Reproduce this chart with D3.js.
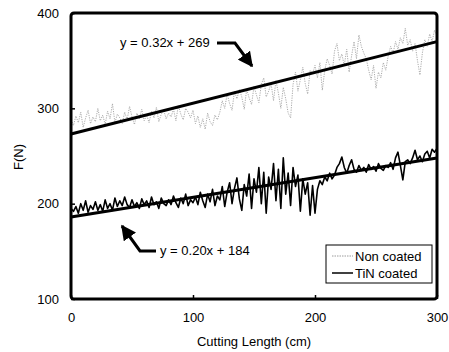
<!DOCTYPE html>
<html><head><meta charset="utf-8">
<script src="https://cdn.jsdelivr.net/npm/d3@7"></script>
<style>
html,body{margin:0;padding:0;background:#fff;}
svg{display:block;font-family:"Liberation Sans",Arial,sans-serif;}
</style></head>
<body>
<svg id="chart" width="449" height="352"></svg>
<script>
// ---- data ----
const cuttingLength = d3.range(0, 301, 2); // cm, 2 cm step
const nonCoated = [
 288,282,292,285,296,280,290,298,284,291,286,
 300,287,293,283,297,289,305,285,294,290,
 284,296,288,302,291,283,295,289,299,287,
 293,285,297,290,301,286,294,298,289,295,
 291,299,287,303,294,288,300,296,290,298,
 284,292,280,289,278,295,286,282,293,288,
 296,308,300,315,305,298,318,310,320,312,
 299,320,311,304,323,314,306,325,332,312,
 318,326,308,329,316,300,322,310,295,290,
 325,338,318,330,343,326,315,340,336,345,
 332,348,319,340,352,345,336,360,368,350,
 357,345,362,338,355,370,352,377,365,358,
 352,340,330,345,321,338,332,348,340,355,
 365,358,370,362,374,368,384,366,372,360,
 368,350,335,358,372,365,378,370,382,376
];
const tinCoated = [
 195,192,197,190,200,193,203,191,198,194,202,
 193,199,192,204,195,200,193,206,197,203,
 198,207,199,196,204,197,201,195,205,199,
 203,196,207,199,202,195,206,200,198,204,
 199,208,201,196,206,200,210,198,204,201,
 207,199,212,203,196,210,202,215,198,208,
 204,218,197,212,222,200,216,227,205,193,
 220,208,231,195,226,212,238,200,233,190,
 228,215,242,203,236,195,248,210,232,198,
 238,218,230,192,226,210,222,188,219,190,
 215,224,220,228,224,232,226,230,238,242,
 249,238,232,240,246,236,233,240,235,238,
 233,241,236,239,234,242,237,235,240,238,
 243,236,248,254,240,225,244,246,242,248,
 256,246,250,244,252,255,248,257,254,258
];
const fitX = [0, 300];
const nonFit = [273, 370];   // drawn trend line, Non coated
const tinFit = [186, 248];   // drawn trend line, TiN coated
const xTicks = [0, 100, 200, 300];
const yTicks = [100, 200, 300, 400];
const seriesNames = ["Non coated", "TiN coated"];
const eqLabels = ["y = 0.32x + 269", "y = 0.20x + 184"];

// ---- chart ----
const svg = d3.select("#chart");
const x = d3.scaleLinear().domain([0, 300]).range([71, 437]);
const y = d3.scaleLinear().domain([100, 400]).range([299, 13]);
const line = d3.line().x(d => x(d[0])).y(d => y(d[1]));

// axes (ticks + labels)
const gx = svg.append("g").attr("transform", `translate(0,${y(100)})`)
  .call(d3.axisBottom(x).tickValues(xTicks).tickSizeInner(-4).tickSizeOuter(0).tickPadding(14));
const gy = svg.append("g").attr("transform", `translate(${x(0)},0)`)
  .call(d3.axisLeft(y).tickValues(yTicks).tickSizeInner(-4).tickSizeOuter(0).tickPadding(12));
[gx, gy].forEach(g => {
  g.select(".domain").remove();
  g.selectAll("text").attr("font-size", 13).attr("fill", "#000")
    .attr("font-family", '"Liberation Sans",Arial,sans-serif');
  g.selectAll("line").attr("stroke", "#000").attr("stroke-width", 1.5);
});

// Non coated data
svg.append("path")
  .datum(cuttingLength.map((c, i) => [c, nonCoated[i]]))
  .attr("d", line).attr("fill", "none")
  .attr("stroke", "#ababab").attr("stroke-width", 1)
  .attr("stroke-dasharray", "1.2,1.2");

// TiN coated data
svg.append("path")
  .datum(cuttingLength.map((c, i) => [c, tinCoated[i]]))
  .attr("d", line).attr("fill", "none")
  .attr("stroke", "#000").attr("stroke-width", 1.6)
  .attr("stroke-linejoin", "round");

// trend lines
[nonFit, tinFit].forEach(f => {
  svg.append("path").datum(fitX.map((c, i) => [c, f[i]]))
    .attr("d", line).attr("fill", "none")
    .attr("stroke", "#000").attr("stroke-width", 3);
});

// frame
svg.append("rect")
  .attr("x", x(0)).attr("y", y(400))
  .attr("width", x(300) - x(0)).attr("height", y(100) - y(400))
  .attr("rx", 3).attr("fill", "none")
  .attr("stroke", "#000").attr("stroke-width", 3);

// annotations
svg.append("defs").append("marker")
  .attr("id", "ah").attr("viewBox", "0 0 10 10").attr("refX", 9).attr("refY", 5)
  .attr("markerWidth", 5).attr("markerHeight", 5).attr("orient", "auto")
  .append("path").attr("d", "M0,0L10,5L0,10Z").attr("fill", "#000");

svg.append("text").attr("x", 120).attr("y", 47).attr("font-size", 13).text(eqLabels[0]);
svg.append("path").attr("d", "M217,43 L235,43 L252,66")
  .attr("fill", "none").attr("stroke", "#000").attr("stroke-width", 3)
  .attr("marker-end", "url(#ah)");

svg.append("text").attr("x", 160).attr("y", 255).attr("font-size", 13).text(eqLabels[1]);
svg.append("path").attr("d", "M156,251 L140,251 L122,226")
  .attr("fill", "none").attr("stroke", "#000").attr("stroke-width", 3)
  .attr("marker-end", "url(#ah)");

// axis titles
svg.append("text").attr("x", 254).attr("y", 346).attr("text-anchor", "middle")
  .attr("font-size", 13).text("Cutting Length (cm)");
svg.append("text").attr("transform", "translate(23,157) rotate(-90)")
  .attr("text-anchor", "middle").attr("font-size", 13).text("F(N)");

// legend
const lg = svg.append("g");
lg.append("rect").attr("x", 326).attr("y", 245).attr("width", 106).attr("height", 38)
  .attr("fill", "#fff").attr("stroke", "#000").attr("stroke-width", 1);
lg.append("line").attr("x1", 332).attr("x2", 353).attr("y1", 256).attr("y2", 256)
  .attr("stroke", "#9c9c9c").attr("stroke-width", 1).attr("stroke-dasharray", "1.5,1");
lg.append("line").attr("x1", 332).attr("x2", 353).attr("y1", 273).attr("y2", 273)
  .attr("stroke", "#000").attr("stroke-width", 1.5);
lg.append("text").attr("x", 355).attr("y", 260.5).attr("font-size", 13).text(seriesNames[0]);
lg.append("text").attr("x", 355).attr("y", 277.5).attr("font-size", 13).text(seriesNames[1]);
</script>
</body></html>
